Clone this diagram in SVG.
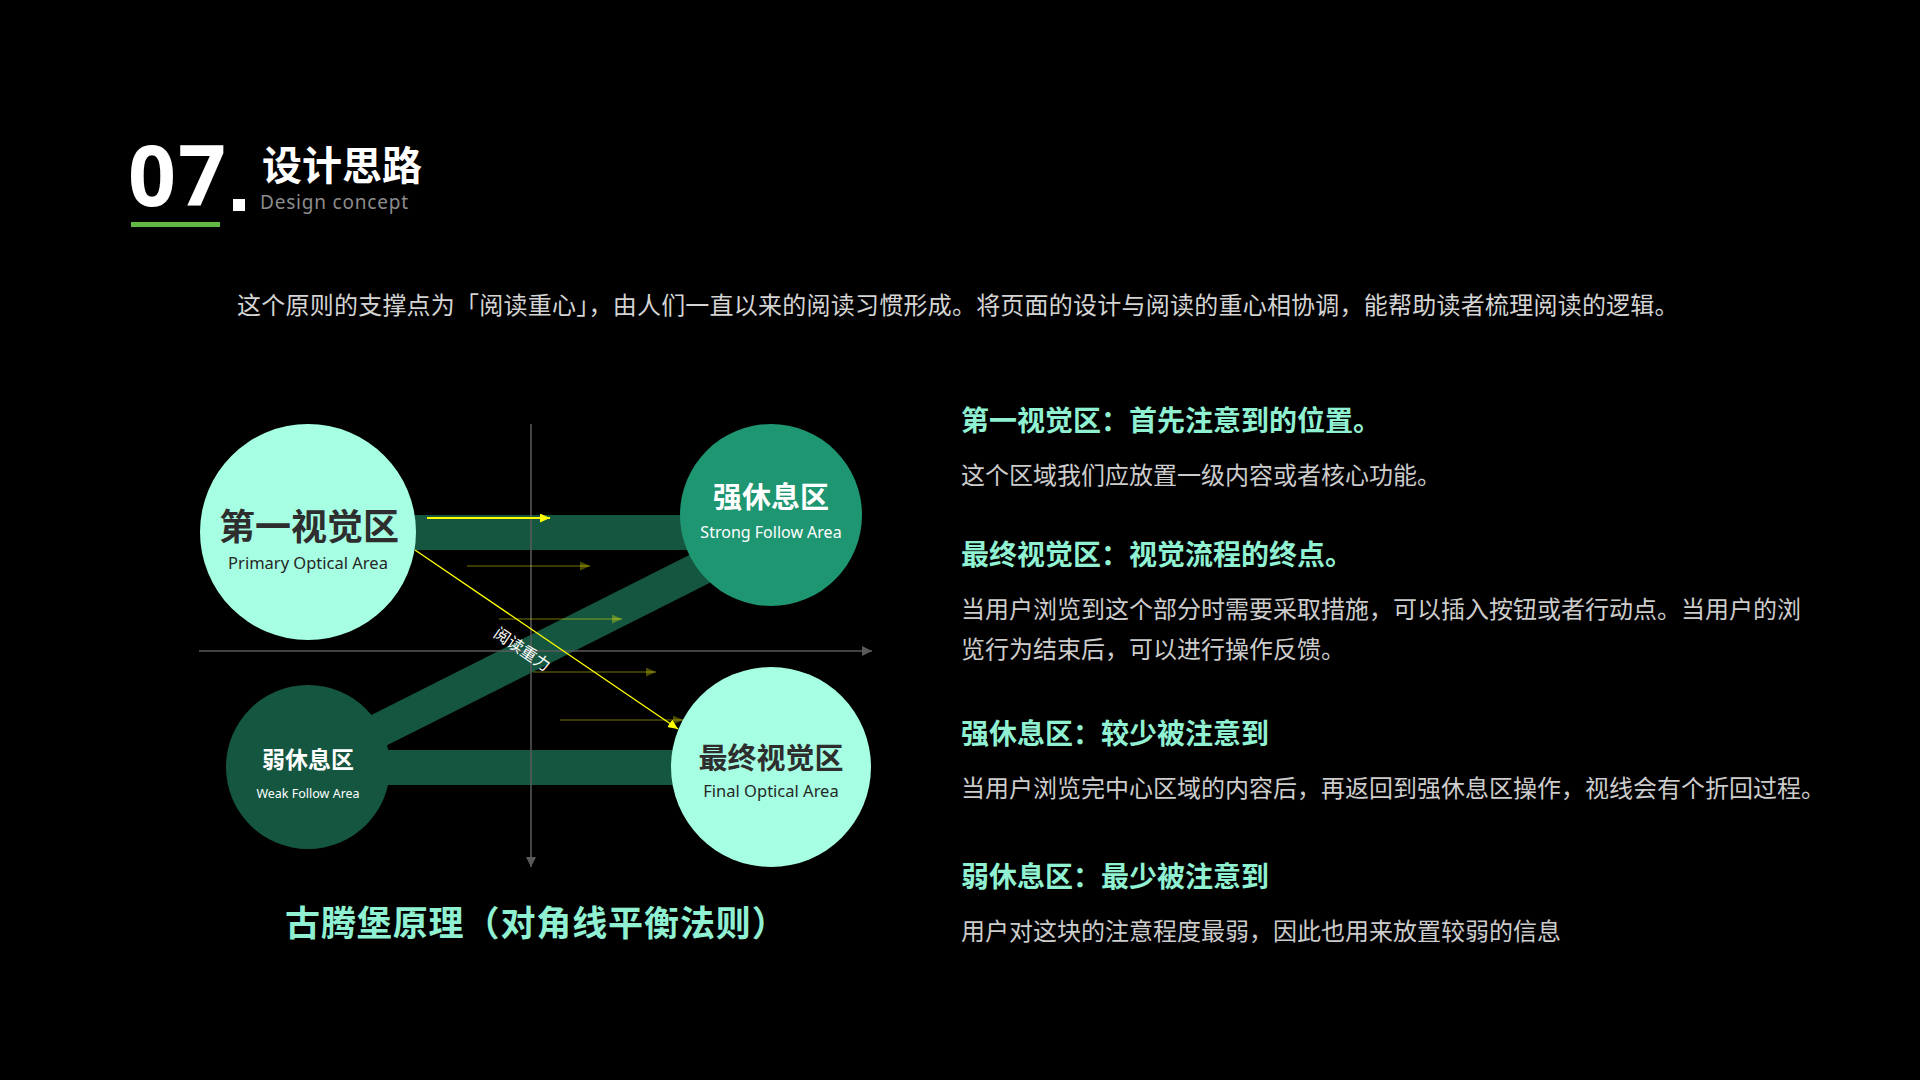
<svg xmlns="http://www.w3.org/2000/svg" width="1920" height="1080" viewBox="0 0 1920 1080">
<style>
.cjk{font-family:"Noto Sans CJK SC","Noto Sans",sans-serif}
.lat{font-family:"Noto Sans","Liberation Sans",sans-serif}
.h{font-family:"Noto Sans CJK SC",sans-serif;font-size:28px;font-weight:700;fill:#8ff0d2}
.b{font-family:"Noto Sans CJK SC",sans-serif;font-size:24px;fill:#cccccc}
.axis{stroke:#5a5a5a;stroke-width:1.5;fill:none}
.olive{stroke:#ffff00;stroke-opacity:0.3;stroke-width:1.5;fill:none}
</style>
<defs>
<marker id="mGray" markerUnits="userSpaceOnUse" markerWidth="10" markerHeight="10" viewBox="0 0 10 10" refX="10" refY="5" orient="auto"><path d="M0,0 L10,5 L0,10 z" fill="#5a5a5a"/></marker>
<marker id="mYellow" markerUnits="userSpaceOnUse" markerWidth="10" markerHeight="9" viewBox="0 0 10 9" refX="10" refY="4.5" orient="auto"><path d="M0,0 L10,4.5 L0,9 z" fill="#ffff00"/></marker>
<marker id="mOlive" markerUnits="userSpaceOnUse" markerWidth="10" markerHeight="9" viewBox="0 0 10 9" refX="10" refY="4.5" orient="auto"><path d="M0,0 L10,4.5 L0,9 z" fill="#ffff00" fill-opacity="0.3"/></marker>
</defs>
<rect width="1920" height="1080" fill="#000000"/>

<g id="header">
<text class="lat" x="128" y="206" font-size="84" font-weight="700" fill="#ffffff" letter-spacing="2">07</text>
<rect x="233" y="199" width="12" height="12" fill="#ffffff"/>
<rect x="131" y="222" width="89" height="5" fill="#62b845"/>
<text class="cjk" x="262" y="180" font-size="40" font-weight="700" fill="#ffffff">设计思路</text>
<text class="lat" x="260" y="209" font-size="19" fill="#8c8c8c" letter-spacing="0.8">Design concept</text>
</g>

<text id="intro" class="cjk" x="237" y="314" font-size="24" fill="#d4d4d4" letter-spacing="0.23">这个原则的支撑点为「阅读重心」，由人们一直以来的阅读习惯形成。将页面的设计与阅读的重心相协调，能帮助读者梳理阅读的逻辑。</text>

<g id="bands">
<rect x="330" y="515" width="380" height="35" fill="#155641"/>
<rect x="308" y="750" width="440" height="35" fill="#155641"/>
<line x1="308" y1="766" x2="771" y2="533" stroke="#155641" stroke-width="34"/>
</g>

<g id="connectors">
<line class="axis" x1="531" y1="424" x2="531" y2="867" marker-end="url(#mGray)"/>
<line class="axis" x1="199" y1="651" x2="872" y2="651" marker-end="url(#mGray)"/>
<line class="olive" x1="467" y1="566" x2="590" y2="566" marker-end="url(#mOlive)"/>
<line class="olive" x1="499" y1="619" x2="622" y2="619" marker-end="url(#mOlive)"/>
<line class="olive" x1="533" y1="672" x2="656" y2="672" marker-end="url(#mOlive)"/>
<line class="olive" x1="560" y1="720" x2="683" y2="720" marker-end="url(#mOlive)"/>
<line x1="427" y1="518" x2="550" y2="518" stroke="#ffff00" stroke-width="2" marker-end="url(#mYellow)"/>
<line x1="415" y1="550" x2="678" y2="729" stroke="#ffff00" stroke-width="1.3" marker-end="url(#mYellow)"/>
<text class="cjk" x="0" y="0" font-size="16" fill="#ffffff" text-anchor="middle" transform="translate(519,654) rotate(34)">阅读重力</text>
</g>

<g id="node-primary">
<circle cx="308" cy="532" r="108" fill="#a6ffe2"/>
<text class="cjk" x="309" y="540" font-size="36" font-weight="700" fill="#2e2e2e" text-anchor="middle">第一视觉区</text>
<text class="lat" x="308" y="569" font-size="16.5" fill="#262626" text-anchor="middle">Primary Optical Area</text>
</g>

<g id="node-strong">
<circle cx="771" cy="515" r="91" fill="#1f9672"/>
<text class="cjk" x="771" y="508" font-size="29" font-weight="700" fill="#ffffff" text-anchor="middle">强休息区</text>
<text class="lat" x="771" y="538" font-size="16" fill="#ffffff" text-anchor="middle">Strong Follow Area</text>
</g>

<g id="node-weak">
<circle cx="308" cy="767" r="82" fill="#155641"/>
<text class="cjk" x="308" y="768" font-size="23" font-weight="700" fill="#ffffff" text-anchor="middle">弱休息区</text>
<text class="lat" x="308" y="798" font-size="12.5" fill="#ffffff" text-anchor="middle">Weak Follow Area</text>
</g>

<g id="node-final">
<circle cx="771" cy="767" r="100" fill="#a6ffe2"/>
<text class="cjk" x="771" y="769" font-size="29" font-weight="700" fill="#2e2e2e" text-anchor="middle">最终视觉区</text>
<text class="lat" x="771" y="797" font-size="16.5" fill="#262626" text-anchor="middle">Final Optical Area</text>
</g>

<text id="caption" class="cjk" x="285" y="936" font-size="35" font-weight="700" fill="#8ff0d2" letter-spacing="0.9">古腾堡原理（对角线平衡法则）</text>

<g id="descriptions">
<text class="h" x="961" y="431">第一视觉区：首先注意到的位置。</text>
<text class="b" x="961" y="484">这个区域我们应放置一级内容或者核心功能。</text>
<text class="h" x="961" y="565">最终视觉区：视觉流程的终点。</text>
<text class="b" x="961" y="618">当用户浏览到这个部分时需要采取措施，可以插入按钮或者行动点。当用户的浏</text>
<text class="b" x="961" y="658">览行为结束后，可以进行操作反馈。</text>
<text class="h" x="961" y="744">强休息区：较少被注意到</text>
<text class="b" x="961" y="797">当用户浏览完中心区域的内容后，再返回到强休息区操作，视线会有个折回过程。</text>
<text class="h" x="961" y="887">弱休息区：最少被注意到</text>
<text class="b" x="961" y="940">用户对这块的注意程度最弱，因此也用来放置较弱的信息</text>
</g>
</svg>
